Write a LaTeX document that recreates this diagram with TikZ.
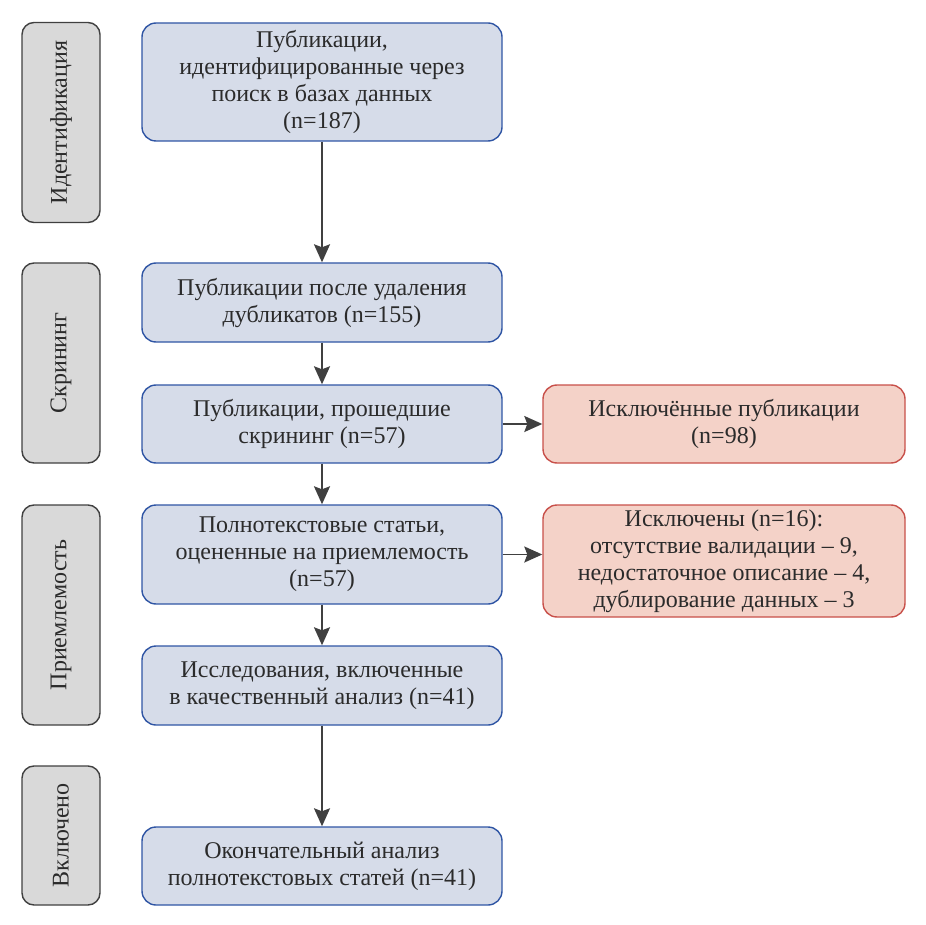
\documentclass[tikz,border=0pt]{standalone}
\usepackage{fontspec}
\setmainfont{Liberation Serif}
\usetikzlibrary{arrows.meta}

\definecolor{boxfill}{HTML}{D6DCE9}
\definecolor{boxline}{HTML}{2F55A4}
\definecolor{exfill}{HTML}{F4D2C8}
\definecolor{exline}{HTML}{C8504A}
\definecolor{stfill}{HTML}{D9D9D9}
\definecolor{stline}{HTML}{404040}
\definecolor{txt}{HTML}{2B2B2B}

\begin{document}
\begin{tikzpicture}[x=0.5pt, y=-0.5pt,
      every node/.style={font=\fontsize{12}{13.5}\selectfont, text=txt,
        align=center, inner sep=0pt},
      stage/.style={draw=stline, fill=stfill, line width=0.7pt,
        rounded corners=6pt, minimum width=39pt},
      box/.style={draw=boxline, fill=boxfill, line width=0.7pt,
        rounded corners=7pt, minimum width=180pt},
      excl/.style={draw=exline, fill=exfill, line width=0.7pt,
        rounded corners=7pt, minimum width=181pt},
      arr/.style={draw=txt!90, line width=0.9pt,
        -{Stealth[length=9pt, width=8pt, inset=1.5pt]}}]
  \useasboundingbox (0,0) rectangle (926,925);

  % stages on the left
  \node [stage, minimum height=100pt] (ident) at (61,122.5)
        {\rotatebox{90}{Идентификация}};
  \node [stage, minimum height=100pt] (screen) at (61,363)
        {\rotatebox{90}{Скрининг}};
  \node [stage, minimum height=110pt] (elig) at (61,615)
        {\rotatebox{90}{Приемлемость}};
  \node [stage, minimum height=69.5pt] (incl) at (61,835.5)
        {\rotatebox{90}{Включено}};

  % main flow
  \node [box, minimum height=59pt] (found) at (322,82)
        {Публикации,\\идентифицированные через\\поиск в базах данных\\(n=187)};
  \node [box, minimum height=39.5pt] (dedup) at (322,302.5)
        {Публикации после удаления\\дубликатов (n=155)};
  \node [box, minimum height=39pt] (passed) at (322,424)
        {Публикации, прошедшие\\скрининг (n=57)};
  \node [box, minimum height=49.5pt] (full) at (322,554.5)
        {Полнотекстовые статьи,\\оцененные на приемлемость\\(n=57)};
  \node [box, minimum height=39.5pt] (qual) at (322,685.5)
        {Исследования, включенные\\в качественный анализ (n=41)};
  \node [box, minimum height=39pt] (final) at (322,866)
        {Окончательный анализ\\полнотекстовых статей (n=41)};

  % exclusions
  \node [excl, minimum height=39pt] (ex1) at (724,424)
        {Исключённые публикации\\(n=98)};
  \node [excl, minimum height=56pt] (ex2) at (724,561)
        {Исключены (n=16):\\отсутствие валидации -- 9,\\недостаточное описание -- 4,\\дублирование данных -- 3};

  \draw [arr] (found) -- (dedup);
  \draw [arr] (dedup) -- (passed);
  \draw [arr] (passed) -- (full);
  \draw [arr] (full) -- (qual);
  \draw [arr] (qual) -- (final);
  \draw [arr] (passed) -- (ex1);
  \draw [arr] (full.east) -- (full.east -| ex2.west);
\end{tikzpicture}
\end{document}
